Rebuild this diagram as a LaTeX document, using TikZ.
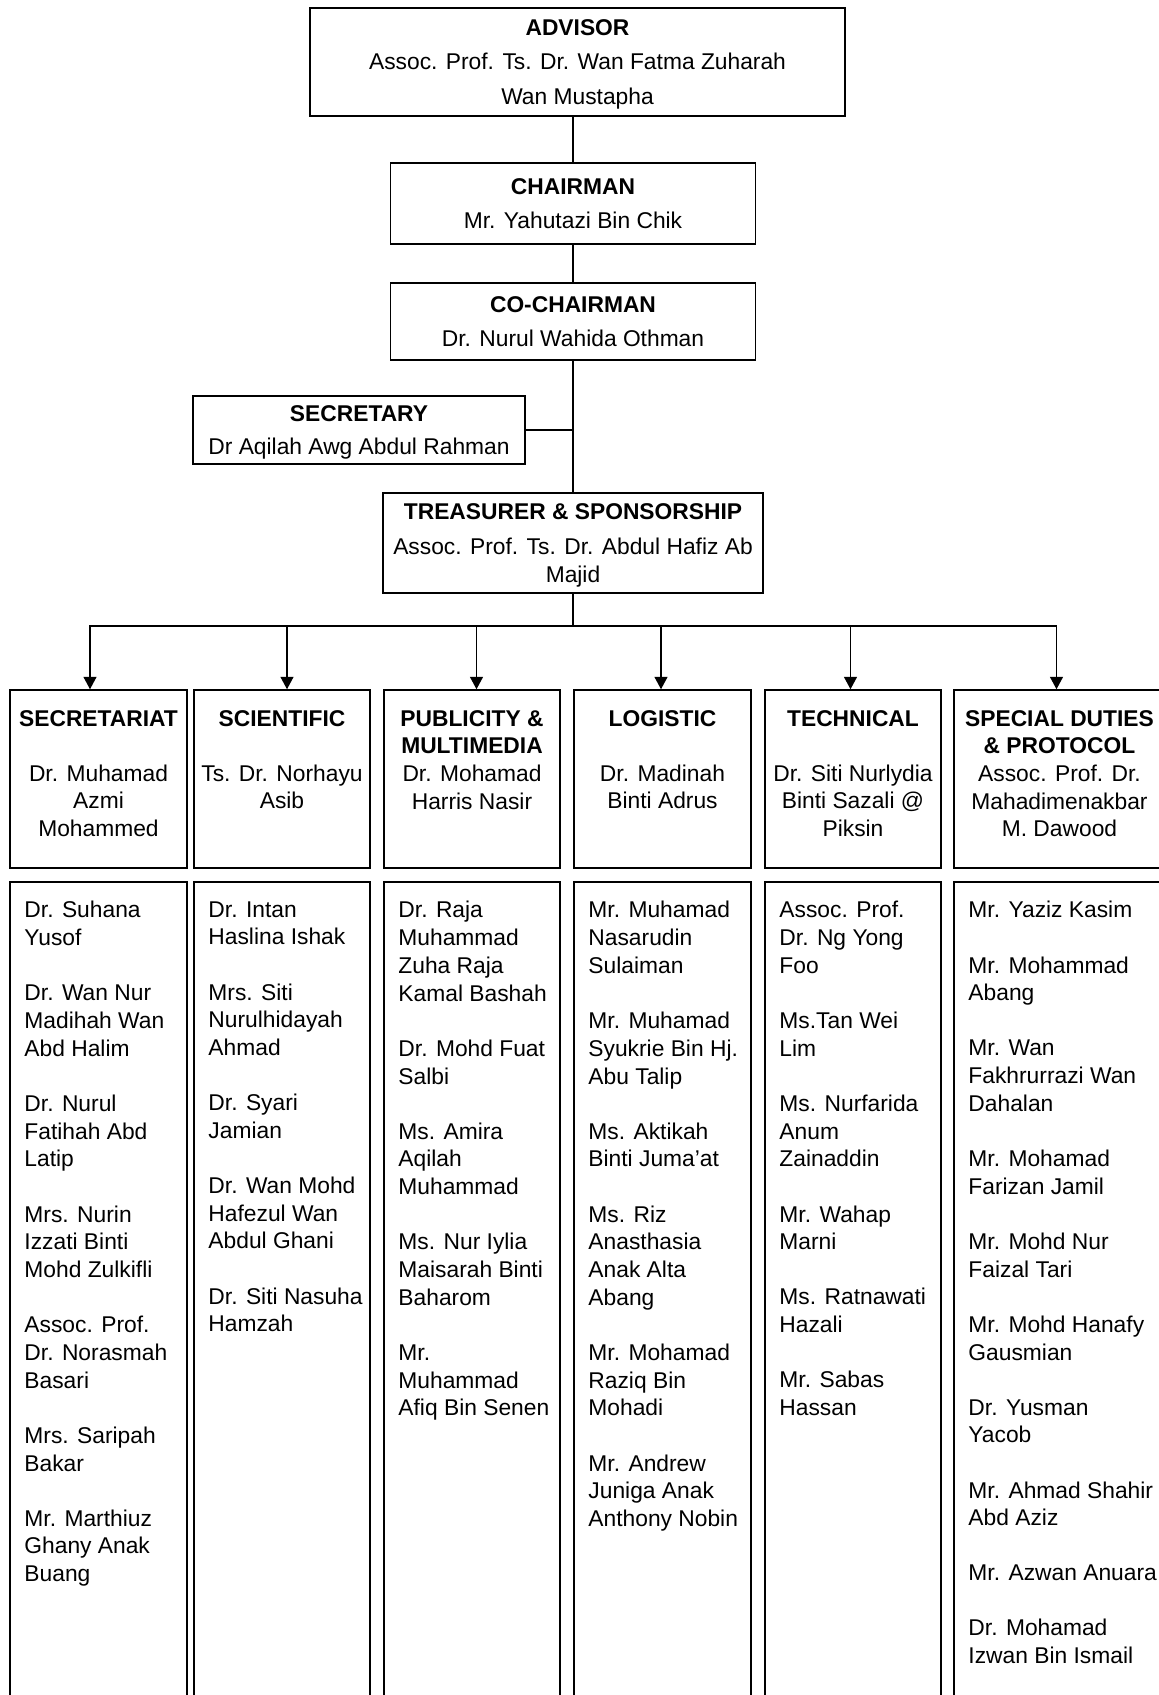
\documentclass[tikz,border=0pt]{standalone}
\usepackage{fontspec}
\setmainfont{Liberation Sans}
\usetikzlibrary{positioning,arrows.meta}
\tikzset{
  box/.style={draw, line width=1.5pt, inner sep=0pt},
  head/.style={font=\fontsize{22.8}{27.6}\selectfont, align=center, inner sep=0pt},
  list/.style={font=\fontsize{22.8}{27.75}\selectfont, align=left, inner sep=0pt},
  link/.style={line width=1.5pt},
  arr/.style={line width=1.5pt, -{Triangle[length=12.5pt,width=13pt]}},
}
\begin{document}
\begin{tikzpicture}[x=1pt,y=-1pt]
\fill[white] (0,0) rectangle (1159,1695);
\useasboundingbox (0,0) rectangle (1159,1695);

% top of the committee
\node[box, head, text depth=0pt, minimum width=535pt, minimum height=108pt] (adv) at (577.5,62) {\textbf{ADVISOR}\\[7pt] Assoc. Prof. Ts. Dr. Wan Fatma Zuharah\\[7pt] Wan Mustapha};
\node[box, head, text depth=0pt, minimum width=365pt, minimum height=81pt] (chair) at (573,203.5) {\textbf{CHAIRMAN}\\[7pt] Mr. Yahutazi Bin Chik};
\node[box, head, text depth=0pt, minimum width=365pt, minimum height=77pt] (cochair) at (573,321.5) {\textbf{CO-CHAIRMAN}\\[7pt] Dr. Nurul Wahida Othman};
\node[box, head, text depth=0pt, minimum width=332pt, minimum height=68pt] (sec) at (359,430) {\textbf{SECRETARY}\\[6pt] Dr Aqilah Awg Abdul Rahman};
\node[box, head, text depth=0pt, minimum width=380pt, minimum height=100pt] (treas) at (573,543) {\textbf{TREASURER \& SPONSORSHIP}\\[7pt] Assoc. Prof. Ts. Dr. Abdul Hafiz Ab\\ Majid};

\draw[link] (adv.south -| chair.north) -- (chair.north);
\draw[link] (chair.south) -- (cochair.north);
\draw[link] (cochair.south) -- (treas.north);
\draw[link] (sec.east) -- (sec.east -| cochair.south);
\coordinate (bus) at (573,626);
\draw[link] (treas.south) -- (bus);

% committees: head box and member box
\foreach \n/\cx/\w in {1/98.5/177, 2/282/176, 3/472/176, 4/662.5/177, 5/853/176, 6/1059.5/211}
{
\node[box, minimum width=\w pt, minimum height=178pt] (d\n) at (\cx,779) {};
\node[box, minimum width=\w pt, minimum height=828pt] (m\n) at (\cx,1296) {};
}
\foreach \n/\ax in {1/90, 2/287, 3/476.5, 4/661, 5/850.5, 6/1056.5}
{
\coordinate (a\n) at (\ax,626);
\draw[arr] (a\n) -- (a\n |- d\n.north);
}
\draw[link, line cap=rect] (a1) -- (a6);

\node[head, below=21pt of d1.north] (h1) {\textbf{SECRETARIAT}\\[1.2em] Dr. Muhamad\\ Azmi\\ Mohammed};
\node[head, below=21pt of d2.north] (h2) {\textbf{SCIENTIFIC}\\[1.2em] Ts. Dr. Norhayu\\ Asib};
\node[head, below=21pt of d3.north] (h3) {\textbf{PUBLICITY \&}\\ \textbf{MULTIMEDIA}\\ Dr. Mohamad\\ Harris Nasir};
\node[head, below=21pt of d4.north] (h4) {\textbf{LOGISTIC}\\[1.2em] Dr. Madinah\\ Binti Adrus};
\node[head, below=21pt of d5.north] (h5) {\textbf{TECHNICAL}\\[1.2em] Dr. Siti Nurlydia\\ Binti Sazali @\\ Piksin};
\node[head, below=21pt of d6.north] (h6) {\textbf{SPECIAL DUTIES}\\ \textbf{\& PROTOCOL}\\ Assoc. Prof. Dr.\\ Mahadimenakbar\\ M. Dawood};

% members
\node[list, below right=20pt and 15pt of m1.north west] (l1) {Dr. Suhana\\ Yusof\\[1.2em]
Dr. Wan Nur\\ Madihah Wan\\ Abd Halim\\[1.2em]
Dr. Nurul\\ Fatihah Abd\\ Latip\\[1.2em]
Mrs. Nurin\\ Izzati Binti\\ Mohd Zulkifli\\[1.2em]
Assoc. Prof.\\ Dr. Norasmah\\ Basari\\[1.2em]
Mrs. Saripah\\ Bakar\\[1.2em]
Mr. Marthiuz\\ Ghany Anak\\ Buang};
\node[list, below right=20pt and 15pt of m2.north west] (l2) {Dr. Intan\\ Haslina Ishak\\[1.2em]
Mrs. Siti\\ Nurulhidayah\\ Ahmad\\[1.2em]
Dr. Syari\\ Jamian\\[1.2em]
Dr. Wan Mohd\\ Hafezul Wan\\ Abdul Ghani\\[1.2em]
Dr. Siti Nasuha\\ Hamzah};
\node[list, below right=20pt and 15pt of m3.north west] (l3) {Dr. Raja\\ Muhammad\\ Zuha Raja\\ Kamal Bashah\\[1.2em]
Dr. Mohd Fuat\\ Salbi\\[1.2em]
Ms. Amira\\ Aqilah\\ Muhammad\\[1.2em]
Ms. Nur Iylia\\ Maisarah Binti\\ Baharom\\[1.2em]
Mr.\\ Muhammad\\ Afiq Bin Senen};
\node[list, below right=20pt and 15pt of m4.north west] (l4) {Mr. Muhamad\\ Nasarudin\\ Sulaiman\\[1.2em]
Mr. Muhamad\\ Syukrie Bin Hj.\\ Abu Talip\\[1.2em]
Ms. Aktikah\\ Binti Juma’at\\[1.2em]
Ms. Riz\\ Anasthasia\\ Anak Alta\\ Abang\\[1.2em]
Mr. Mohamad\\ Raziq Bin\\ Mohadi\\[1.2em]
Mr. Andrew\\ Juniga Anak\\ Anthony Nobin};
\node[list, below right=20pt and 15pt of m5.north west] (l5) {Assoc. Prof.\\ Dr. Ng Yong\\ Foo\\[1.2em]
Ms.Tan Wei\\ Lim\\[1.2em]
Ms. Nurfarida\\ Anum\\ Zainaddin\\[1.2em]
Mr. Wahap\\ Marni\\[1.2em]
Ms. Ratnawati\\ Hazali\\[1.2em]
Mr. Sabas\\ Hassan};
\node[list, below right=20pt and 15pt of m6.north west] (l6) {Mr. Yaziz Kasim\\[1.2em]
Mr. Mohammad\\ Abang\\[1.2em]
Mr. Wan\\ Fakhrurrazi Wan\\ Dahalan\\[1.2em]
Mr. Mohamad\\ Farizan Jamil\\[1.2em]
Mr. Mohd Nur\\ Faizal Tari\\[1.2em]
Mr. Mohd Hanafy\\ Gausmian\\[1.2em]
Dr. Yusman\\ Yacob\\[1.2em]
Mr. Ahmad Shahir\\ Abd Aziz\\[1.2em]
Mr. Azwan Anuara\\[1.2em]
Dr. Mohamad\\ Izwan Bin Ismail};
\end{tikzpicture}
\end{document}
